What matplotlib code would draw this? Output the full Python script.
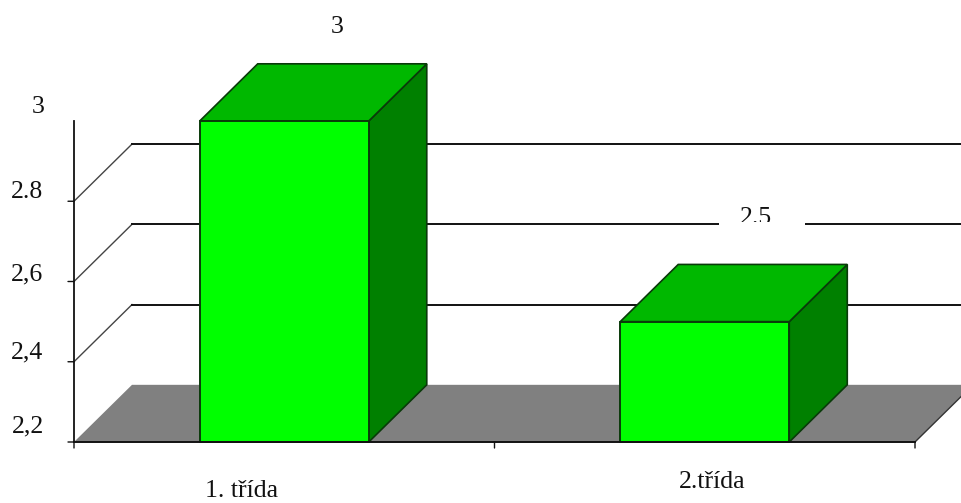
#!/usr/bin/env python3

import matplotlib
matplotlib.use('Agg')
import matplotlib.pyplot as plt
from matplotlib.patches import Polygon, Rectangle

categories = ['1. třída', '2.třída']
values = [3.0, 2.5]
value_labels = ['3', '2.5']
y_ticks = [2.2, 2.4, 2.6, 2.8, 3.0]
y_labels = ['2,2', '2,4', '2,6', '2.8', '3']

W, H = 961, 503
plt.rcParams['font.family'] = ['Liberation Serif', 'DejaVu Serif']

fig = plt.figure(figsize=(W / 100, H / 100), dpi=100)
ax = fig.add_axes([74 / W, 1 - 442 / H, (915 - 74) / W, (442 - 121) / H])
ax.set_xlim(0, len(categories))
ax.set_ylim(y_ticks[0], y_ticks[-1])
ax.axis('off')

# depth of the fake 3d box, in data units
dx = 58 / 420.5
dy = 57 / 400
bar_w = 0.402
base = y_ticks[0]
edge = '#0a3a0a'
line = '#111111'


def poly(pts, color, ec, z, lw=1.2):
    ax.add_patch(Polygon(pts, closed=True, facecolor=color, edgecolor=ec,
                         linewidth=lw, zorder=z, clip_on=False))


# floor
poly([(0, base), (dx, base + dy), (2 + dx, base + dy), (2, base)], '#808080', 'none', 1)
ax.plot([2, 2 + dx], [base, base + dy], color='#333333', lw=1.0, clip_on=False, zorder=1.5)

# back wall lines and the diagonals on the left
for t in y_ticks[1:-1]:
    ax.plot([0, dx], [t, t + dy], color='#444444', lw=1.0, clip_on=False, zorder=2)
    ax.plot([dx, 2 + dx], [t + dy, t + dy], color=line, lw=1.4, clip_on=False, zorder=2)

# gap behind the 2.5 label
ax.add_patch(Rectangle((719 / W, 1 - 226 / H), 86 / W, 26 / H, transform=fig.transFigure,
                       facecolor='white', edgecolor='none', zorder=3, clip_on=False))

# bars
for i, v in enumerate(values):
    x0 = i + 0.5 - bar_w / 2
    x1 = x0 + bar_w
    poly([(x1, base), (x1 + dx, base + dy), (x1 + dx, v + dy), (x1, v)], '#008000', edge, 4)
    poly([(x0, v), (x1, v), (x1 + dx, v + dy), (x0 + dx, v + dy)], '#00B800', edge, 5)
    poly([(x0, base), (x1, base), (x1, v), (x0, v)], '#00FF00', edge, 6, lw=1.4)

# axes
ax.plot([0, 0], [base, y_ticks[-1]], color=line, lw=1.3, clip_on=False, zorder=7)
ax.plot([0, 2], [base, base], color=line, lw=1.4, clip_on=False, zorder=7)
for t in y_ticks[:-1]:
    ax.annotate('', xy=(0, t), xytext=(-6, 0), textcoords='offset pixels',
                arrowprops=dict(arrowstyle='-', color=line, lw=1.0, shrinkA=0, shrinkB=0))
for k in range(len(categories) + 1):
    ax.annotate('', xy=(k, base), xytext=(0, -6), textcoords='offset pixels',
                arrowprops=dict(arrowstyle='-', color=line, lw=1.0, shrinkA=0, shrinkB=0))


def label(x, y, s, ox, oy, z=8):
    return ax.annotate(s, xy=(x, y), xytext=(ox, oy), textcoords='offset pixels',
                       ha='center', va='center', fontsize=18.5, color='#111111',
                       zorder=z, annotation_clip=False)


# tick labels sit unevenly in the original
label_off = [(-46, 16), (-47, 9), (-47, 7), (-47, 9), (-36, 14)]
for t, s, (ox, oy) in zip(y_ticks, y_labels, label_off):
    label(0, t, s, ox, oy)

label(0.5, base, categories[0], -43, -49)
label(1.5, base, categories[1], 7, -40)

label(0.5, values[0], value_labels[0], 53, 94)
t25 = label(1.5, values[1], value_labels[1], 51, 104)
clip = Rectangle((719 / W, 1 - 222 / H), 86 / W, 30 / H, transform=fig.transFigure)
t25.set_clip_path(clip)
t25.set_clip_on(True)

plt.savefig('out.png', dpi=100)
